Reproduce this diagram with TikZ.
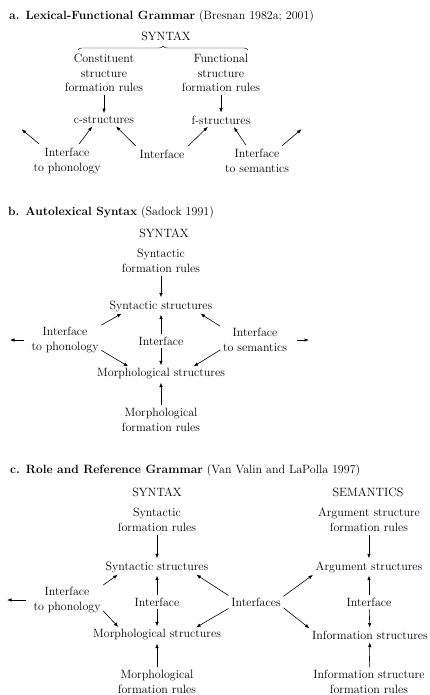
\documentclass[tikz,border=0pt]{standalone}
\usetikzlibrary{arrows.meta,decorations.pathreplacing}

\begin{document}
\begin{tikzpicture}[x=1pt, y=-1pt,
    txt/.style={align=center, inner sep=1pt, font=\fontsize{12}{14.5}\selectfont},
    ttl/.style={anchor=west, inner sep=0pt, font=\fontsize{12}{14.5}\selectfont},
    arr/.style={-{Latex[length=4.5pt,width=3.5pt]}, line width=0.6pt, shorten <=2pt, shorten >=2pt}]
    \useasboundingbox (0,0) rectangle (430,695);

    % a. LFG
    \node[ttl] (titA) at (9,17) {\textbf{a.\enspace Lexical-Functional Grammar} (Bresnan 1982a; 2001)};
    \node[txt] (synA) at (166,36) {SYNTAX};
    \draw[decorate, decoration={brace, amplitude=4pt}] (78,50) -- (248,50);
    \node[txt] (conA) at (104,73) {Constituent\\structure\\formation rules};
    \node[txt] (funA) at (221,73) {Functional\\structure\\formation rules};
    \node[txt] (cA) at (104,120) {c-structures};
    \node[txt] (fA) at (221,120) {f-structures};
    \node[txt] (phA) at (67,161) {Interface\\to phonology};
    \node[txt] (ifA) at (162,154) {Interface};
    \node[txt] (seA) at (257,161) {Interface\\to semantics};
    \coordinate (phOutA) at (20,128);
    \coordinate (seOutA) at (303,128);
    \draw[arr] (conA) -- (cA);
    \draw[arr] (funA) -- (fA);
    \draw[arr, shorten <=5pt] (phA.150) -- (phOutA);
    \draw[arr, shorten <=4pt] (phA.55) -- (cA.-155);
    \draw[arr, shorten <=4pt] (ifA.north west) -- (cA.-25);
    \draw[arr, shorten <=4pt] (ifA.north east) -- (fA.-155);
    \draw[arr, shorten <=4pt] (seA.125) -- (fA.-25);
    \draw[arr, shorten <=4pt] (seA.30) -- (seOutA);

    % b. Autolexical Syntax
    \node[ttl] (titB) at (8,213) {\textbf{b.\enspace Autolexical Syntax} (Sadock 1991)};
    \node[txt] (synB) at (164,233) {SYNTAX};
    \node[txt] (sfrB) at (161,261) {Syntactic\\formation rules};
    \node[txt] (ssB) at (161,306) {Syntactic structures};
    \node[txt] (phB) at (65,340) {Interface\\to phonology};
    \node[txt] (ifB) at (161,341) {Interface};
    \node[txt] (seB) at (255,340) {Interface\\to semantics};
    \node[txt] (msB) at (161,374) {Morphological structures};
    \node[txt] (mfrB) at (161,420) {Morphological\\formation rules};
    \coordinate (phOutB) at (8,340);
    \coordinate (seOutB) at (311,340);
    \draw[arr] (sfrB) -- (ssB);
    \draw[arr] (phB.north east) -- (ssB.-170);
    \draw[arr] (ifB) -- (ssB);
    \draw[arr] (seB.north west) -- (ssB.-10);
    \draw[arr] (phB.-15) -- (msB.168);
    \draw[arr] (ifB) -- (msB);
    \draw[arr] (seB.-165) -- (msB.12);
    \draw[arr] (mfrB) -- (msB);
    \draw[arr, shorten <=6pt] (phB.west) -- (phOutB);
    \draw[arr, shorten <=9pt] (seB.east) -- (seOutB);

    % c. RRG
    \node[ttl] (titC) at (10,471) {\textbf{c.\enspace Role and Reference Grammar} (Van Valin and LaPolla 1997)};
    \node[txt] (synC) at (157,492) {SYNTAX};
    \node[txt] (semC) at (368,492) {SEMANTICS};
    \node[txt] (sfrC) at (157,520) {Syntactic\\formation rules};
    \node[txt] (afrC) at (369,520) {Argument structure\\formation rules};
    \node[txt] (ssC) at (157,567) {Syntactic structures};
    \node[txt] (asC) at (369,567) {Argument structures};
    \node[txt] (phC) at (67,600) {Interface\\to phonology};
    \node[txt] (ifC) at (157,602) {Interface};
    \node[txt] (ifsC) at (256,602) {Interfaces};
    \node[txt] (if2C) at (369,602) {Interface};
    \node[txt] (msC) at (157,635) {Morphological structures};
    \node[txt] (isC) at (370,635) {Information structures};
    \node[txt] (mfrC) at (157,682) {Morphological\\formation rules};
    \node[txt] (ifrC) at (369,682) {Information structure\\formation rules};
    \coordinate (phOutC) at (5,600);
    \draw[arr] (sfrC) -- (ssC);
    \draw[arr] (afrC) -- (asC);
    \draw[arr] (phC.north east) -- (ssC.-170);
    \draw[arr] (ifC) -- (ssC);
    \draw[arr] (ifsC.north west) -- (ssC.-10);
    \draw[arr] (ifsC.10) -- (asC.south west);
    \draw[arr] (if2C) -- (asC);
    \draw[arr] (phC.-15) -- (msC.170);
    \draw[arr] (ifC) -- (msC);
    \draw[arr] (ifsC.south west) -- (msC.10);
    \draw[arr] (ifsC.-10) -- (isC.north west);
    \draw[arr] (if2C) -- (isC);
    \draw[arr] (mfrC) -- (msC);
    \draw[arr] (ifrC) -- (isC);
    \draw[arr, shorten <=6pt] (phC.west) -- (phOutC);
\end{tikzpicture}
\end{document}
